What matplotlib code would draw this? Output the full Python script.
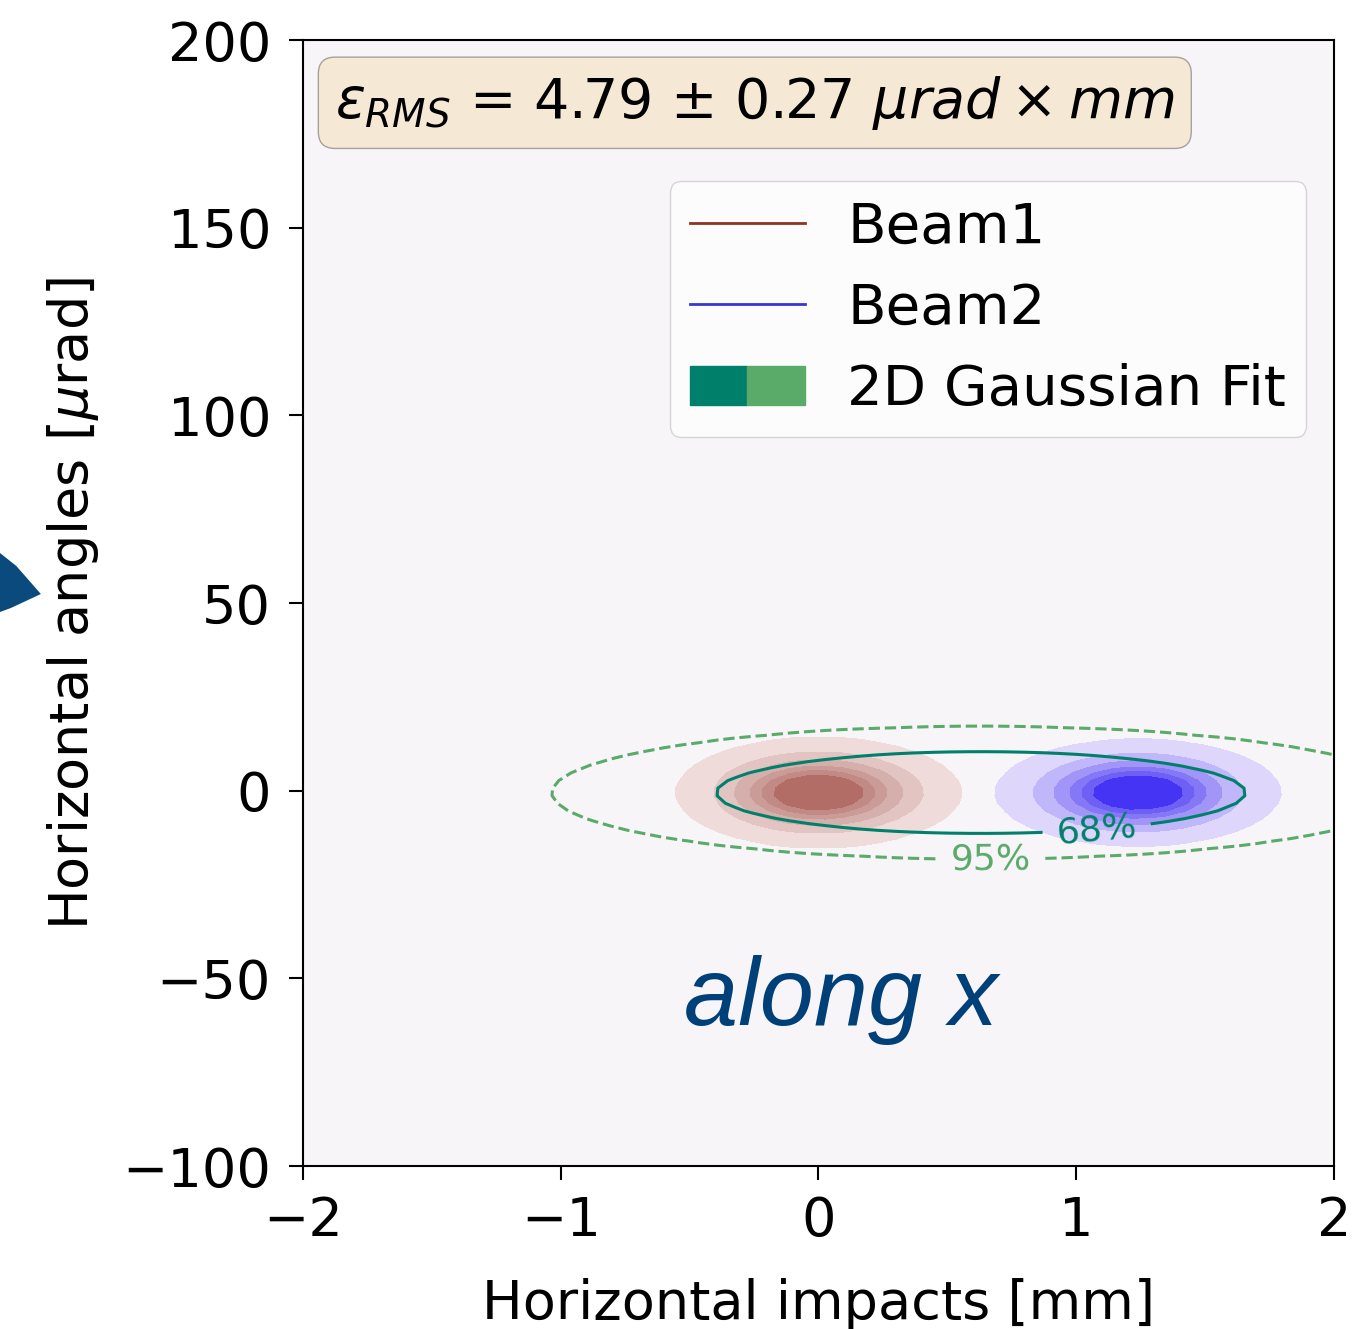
import matplotlib
matplotlib.use("Agg")
import matplotlib.pyplot as plt
from matplotlib.patches import Patch, Polygon
from matplotlib.lines import Line2D
from matplotlib.legend_handler import HandlerTuple
from matplotlib.colors import LinearSegmentedColormap
import numpy as np

# Beam profiles (centre x [mm], centre y [urad], sigma x [mm], sigma y [urad])
beam_names = ['Beam1', 'Beam2']
beam_cx = [0.0, 1.24]
beam_cy = [-0.5, -0.5]
beam_sx = [0.225, 0.225]
beam_sy = [6.0, 5.8]
beam_line_colors = ['#8e3426', '#3b33d4']
beam_light = ['#f4e6e6', '#eee6fc']
beam_dark = ['#a65a52', '#2a18f2']
beam_levels = [0.05, 0.2, 0.35, 0.5, 0.62, 0.74, 1.01]

# 2D Gaussian fit of both beams
fit_cx = 0.63
fit_cy = -0.5
fit_sx = 0.68
fit_sy = 7.2
fit_levels = [0.05, 0.32]          # 95 % and 68 % containment
fit_labels = {0.05: '95%', 0.32: '68%'}
fit_colors = ['#5aaa6a', '#00806a']
fit_styles = ['--', '-']
fit_label_pos = [(0.67, -18.0), (1.08, -10.5)]

emittance_text = r'$\varepsilon_{RMS}$ = 4.79 $\pm$ 0.27 $\mu rad \times mm$'

xticks = [-2, -1, 0, 1, 2]
yticks = [-100, -50, 0, 50, 100, 150, 200]

fs = 39

fig = plt.figure(figsize=(13.62, 13.29), dpi=100)
ax = fig.add_axes([0.2225, 0.1226, 0.7569, 0.8473])
ax.set_facecolor('#f7f5f8')

# grid coarse in x, gives the polygonal kde look
gx = np.linspace(-2.2, 2.6, 70)
gy = np.linspace(-100, 200, 150)
X, Y = np.meshgrid(gx, gy)

for i in range(len(beam_names)):
    Z = np.exp(-0.5 * (((X - beam_cx[i]) / beam_sx[i]) ** 2
                       + ((Y - beam_cy[i]) / beam_sy[i]) ** 2))
    cmap = LinearSegmentedColormap.from_list('b%d' % i, [beam_light[i], beam_dark[i]])
    ax.contourf(X, Y, Z, levels=beam_levels, cmap=cmap)

Zf = np.exp(-0.5 * (((X - fit_cx) / fit_sx) ** 2 + ((Y - fit_cy) / fit_sy) ** 2))
cs = ax.contour(X, Y, Zf, levels=fit_levels, colors=fit_colors,
                linestyles=fit_styles, linewidths=2.2)
ax.clabel(cs, fmt=fit_labels, fontsize=26, inline=True, manual=fit_label_pos)

ax.set_xlim(-2, 2)
ax.set_ylim(-100, 200)
ax.set_xticks(xticks)
ax.set_yticks(yticks)
ax.tick_params(labelsize=fs, length=10, width=1.5)
ax.tick_params(axis='y', pad=13)
ax.tick_params(axis='x', pad=11)
for s in ax.spines.values():
    s.set_linewidth(1.5)

ax.set_xlabel('Horizontal impacts [mm]', fontsize=fs, labelpad=22)
ax.set_ylabel(r'Horizontal angles [$\mu$rad]', fontsize=fs, labelpad=15)

ax.text(0.031, 0.97, emittance_text, transform=ax.transAxes, fontsize=40,
        ha='left', va='top',
        bbox=dict(boxstyle='round', facecolor='wheat', alpha=0.5, edgecolor='#555555'))

handles = [Line2D([], [], color=beam_line_colors[0], lw=2),
           Line2D([], [], color=beam_line_colors[1], lw=2),
           (Patch(color=fit_colors[1]), Patch(color=fit_colors[0]))]
ax.legend(handles, beam_names + ['2D Gaussian Fit'], fontsize=40.5,
          loc='upper right', bbox_to_anchor=(1.0, 0.8995),
          borderpad=0.35, handletextpad=0.75, handlelength=2.05,
          labelspacing=0.48,
          handler_map={tuple: HandlerTuple(ndivide=None, pad=0)})

ax.text(0.522, 0.125, 'along x', transform=ax.transAxes, fontsize=70,
        family='Liberation Sans', style='italic', color='#004079',
        ha='center', va='baseline')

# slide decoration at the left border
fig.patches.append(Polygon([[0.0, 1 - 553 / 1329], [0.012, 1 - 566 / 1329],
                            [0.030, 1 - 594 / 1329], [0.008, 1 - 608 / 1329],
                            [0.0, 1 - 612 / 1329]],
                           closed=True, transform=fig.transFigure,
                           facecolor='#0b4a7d', edgecolor='none'))

fig.savefig('out.png', dpi=100)
